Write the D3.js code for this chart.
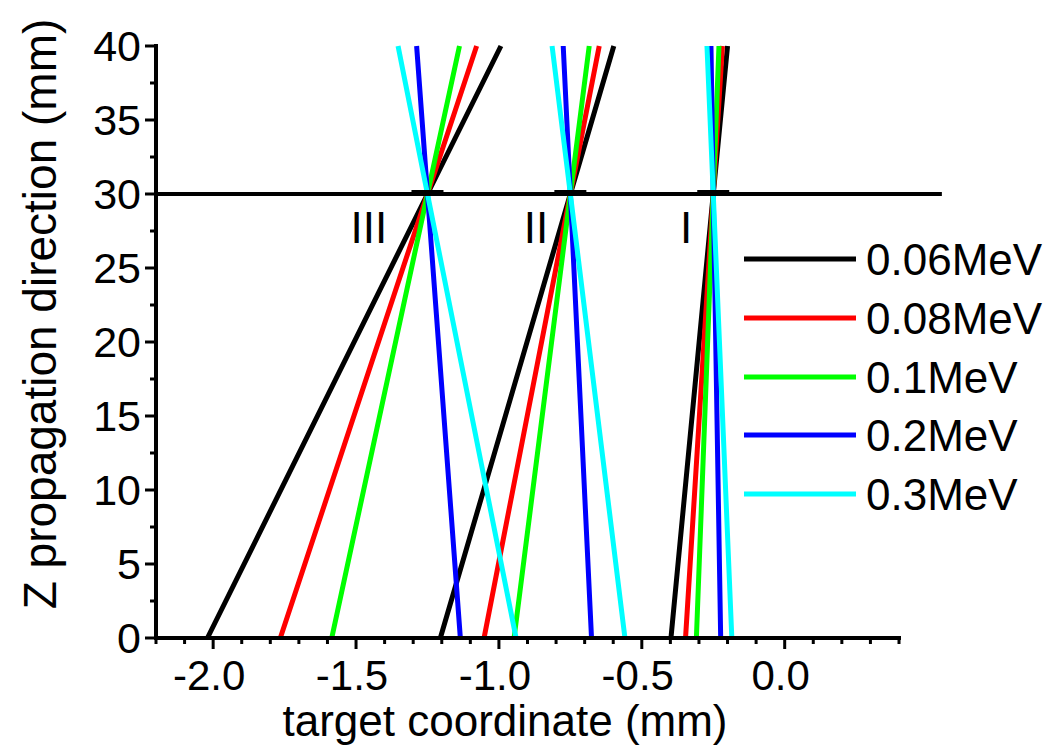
<!DOCTYPE html>
<html>
<head>
<meta charset="utf-8">
<script src="https://cdn.jsdelivr.net/npm/d3@7"></script>
<style>
  html, body { margin: 0; padding: 0; background: #fff; }
  svg { display: block; }
  text { font-family: "Liberation Sans", Arial, sans-serif; fill: #000; }
</style>
</head>
<body>
<svg id="chart" width="1060" height="749"></svg>
<script>
// ---- data ----
const energies = ["0.06MeV", "0.08MeV", "0.1MeV", "0.2MeV", "0.3MeV"];
const colors = ["#000000", "#ff0000", "#00ff00", "#0000ff", "#00ffff"];
const zPoints = [0, 30, 40];
const groupLabels = ["III", "II", "I"];
const focusX = [-1.25, -0.75, -0.25];
const focusZ = 30;
// x at z=0 and z=40 for each energy, per group
const groupIII_z0  = [-2.02, -1.765, -1.585, -1.135, -0.94];
const groupIII_z40 = [-0.993, -1.078, -1.138, -1.288, -1.353];
const groupII_z0   = [-1.205, -1.052, -0.947, -0.676, -0.559];
const groupII_z40  = [-0.598, -0.649, -0.684, -0.775, -0.814];
const groupI_z0    = [-0.398, -0.347, -0.309, -0.224, -0.185];
const groupI_z40   = [-0.200, -0.218, -0.230, -0.258, -0.272];
const xMajorTicks = [-2.0, -1.5, -1.0, -0.5, 0.0];
const xMinorTicks = [-2.2, -2.1, -1.9, -1.8, -1.7, -1.6, -1.4, -1.3, -1.2, -1.1, -0.9, -0.8, -0.7, -0.6, -0.4, -0.3, -0.2, -0.1, 0.1, 0.2, 0.3, 0.4];
const yMajorTicks = [0, 5, 10, 15, 20, 25, 30, 35, 40];
const yMinorTicks = [2.5, 7.5, 12.5, 17.5, 22.5, 27.5, 32.5, 37.5];
const hLineX = [-2.2, 0.55];
const xTitle = "target coordinate (mm)";
const yTitle = "Z propagation direction (mm)";

// ---- drawing ----
const svg = d3.select("#chart");
const x = d3.scaleLinear().domain([-2.2, 0.4]).range([156, 899]);
const y = d3.scaleLinear().domain([0, 40]).range([638, 46]);

const groups = [
  [groupIII_z0, groupIII_z40],
  [groupII_z0, groupII_z40],
  [groupI_z0, groupI_z40]
];

const line = d3.line().x(d => x(d[0])).y(d => y(d[1]));

// series lines
energies.forEach((e, i) => {
  groups.forEach((g, gi) => {
    const pts = [[g[0][i], zPoints[0]], [focusX[gi], zPoints[1]], [g[1][i], zPoints[2]]];
    svg.append("path")
      .attr("d", line(pts))
      .attr("fill", "none")
      .attr("stroke", colors[i])
      .attr("stroke-width", 5);
  });
});

// horizontal line at z = 30
svg.append("line")
  .attr("x1", x(hLineX[0])).attr("x2", x(hLineX[1]))
  .attr("y1", y(focusZ)).attr("y2", y(focusZ))
  .attr("stroke", "#000").attr("stroke-width", 4);

// focus bars
focusX.forEach(fx => {
  svg.append("rect")
    .attr("x", x(fx) - 16).attr("y", y(focusZ) - 4)
    .attr("width", 32).attr("height", 6)
    .attr("fill", "#000");
});

// group labels
const labelPos = [-1.455, -0.87, -0.345];
groupLabels.forEach((l, i) => {
  svg.append("text")
    .attr("x", x(labelPos[i])).attr("y", 243)
    .attr("text-anchor", "middle")
    .attr("font-size", 44)
    .text(l);
});

// axes
const fmt = v => (v < 0 ? "-" : "") + Math.abs(v).toFixed(1);
const xAxis = svg.append("g").attr("transform", `translate(0,${y(0)})`);
xAxis.append("line").attr("x1", x(-2.2) - 2).attr("x2", x(0.4) + 2)
  .attr("stroke", "#000").attr("stroke-width", 4);
xAxis.selectAll(".xmaj").data(xMajorTicks).join("line")
  .attr("x1", d => x(d)).attr("x2", d => x(d)).attr("y1", 0).attr("y2", 11)
  .attr("stroke", "#000").attr("stroke-width", 3);
xAxis.selectAll(".xmin").data(xMinorTicks).join("line")
  .attr("x1", d => x(d)).attr("x2", d => x(d)).attr("y1", 0).attr("y2", 6)
  .attr("stroke", "#000").attr("stroke-width", 3);
xAxis.selectAll(".xlab").data(xMajorTicks).join("text")
  .attr("x", d => x(d) - 4).attr("y", 52)
  .attr("text-anchor", "middle").attr("font-size", 42)
  .text(fmt);

const yAxis = svg.append("g").attr("transform", `translate(${x(-2.2)},0)`);
yAxis.append("line").attr("y1", y(0) + 2).attr("y2", y(40) - 2)
  .attr("stroke", "#000").attr("stroke-width", 4);
yAxis.selectAll(".ymaj").data(yMajorTicks).join("line")
  .attr("y1", d => y(d)).attr("y2", d => y(d)).attr("x1", 0).attr("x2", -11)
  .attr("stroke", "#000").attr("stroke-width", 3);
yAxis.selectAll(".ymin").data(yMinorTicks).join("line")
  .attr("y1", d => y(d)).attr("y2", d => y(d)).attr("x1", 0).attr("x2", -6)
  .attr("stroke", "#000").attr("stroke-width", 3);
yAxis.selectAll(".ylab").data(yMajorTicks).join("text")
  .attr("x", -15).attr("y", d => y(d))
  .attr("dy", "0.36em")
  .attr("text-anchor", "end").attr("font-size", 43)
  .text(d => d);

// axis titles
svg.append("text")
  .attr("x", 505).attr("y", 736)
  .attr("text-anchor", "middle").attr("font-size", 44)
  .text(xTitle);
svg.append("text")
  .attr("transform", `translate(56,314) rotate(-90)`)
  .attr("text-anchor", "middle").attr("font-size", 46)
  .text(yTitle);

// legend
const legY = [259, 318, 377, 435, 494];
energies.forEach((e, i) => {
  svg.append("line")
    .attr("x1", 744).attr("x2", 856)
    .attr("y1", legY[i]).attr("y2", legY[i])
    .attr("stroke", colors[i]).attr("stroke-width", 5);
  svg.append("text")
    .attr("x", 866).attr("y", legY[i])
    .attr("dy", "0.36em")
    .attr("font-size", 44)
    .text(e);
});
</script>
</body>
</html>
